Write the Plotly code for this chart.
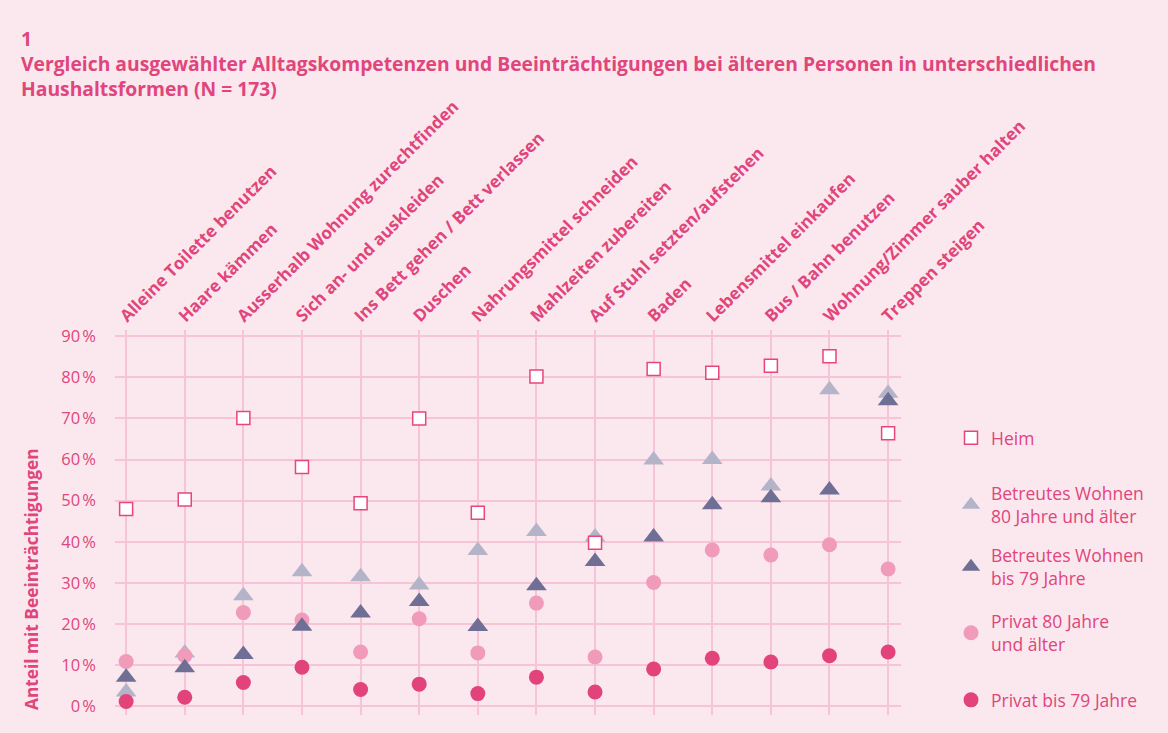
import plotly.graph_objects as go

categories = [
    "Alleine Toilette benutzen",
    "Haare kämmen",
    "Ausserhalb Wohnung zurechtfinden",
    "Sich an- und auskleiden",
    "Ins Bett gehen / Bett verlassen",
    "Duschen",
    "Nahrungsmittel schneiden",
    "Mahlzeiten zubereiten",
    "Auf Stuhl setzten/aufstehen",
    "Baden",
    "Lebensmittel einkaufen",
    "Bus / Bahn benutzen",
    "Wohnung/Zimmer sauber halten",
    "Treppen steigen",
]

heim = [48.0, 50.3, 70.1, 58.2, 49.4, 70.0, 47.1, 80.2, 39.8, 82.0, 81.1, 82.8, 85.1, 66.4]
betreut_80 = [3.5, 13.0, 26.9, 32.7, 31.5, 29.5, 37.9, 42.5, 41.2, 59.9, 60.0, 53.6, 77.0, 76.1]
betreut_79 = [7.1, 9.4, 12.6, 19.5, 22.7, 25.5, 19.4, 29.3, 35.2, 41.2, 49.0, 50.7, 52.6, 74.3]
privat_80 = [10.9, 12.3, 22.8, 21.0, 13.2, 21.3, 13.0, 25.1, 12.0, 30.1, 38.0, 36.8, 39.3, 33.4]
privat_79 = [1.2, 2.2, 5.8, 9.5, 4.1, 5.4, 3.1, 7.1, 3.5, 9.1, 11.7, 10.8, 12.3, 13.2]

y_tickvals = [0, 10, 20, 30, 40, 50, 60, 70, 80, 90]
y_ticktext = [f"{v}\u202f%" for v in y_tickvals]

PINK = "#e0457b"
BG = "#fbe8ef"
GRID = "#f7c4d7"
FONT = "Open Sans"

x_idx = list(range(len(categories)))

fig = go.Figure()

# draw order (bottom -> top); each series gets its own legend box
fig.add_trace(go.Scatter(
    x=x_idx, y=betreut_80, mode="markers", name="Betreutes Wohnen<br>80 Jahre und älter",
    marker=dict(symbol="triangle-up", size=18, color="#b4b4c9"), legend="legend2"))
fig.add_trace(go.Scatter(
    x=x_idx, y=privat_80, mode="markers", name="Privat 80 Jahre<br>und älter",
    marker=dict(symbol="circle", size=15, color="#f09bb9"), legend="legend4"))
fig.add_trace(go.Scatter(
    x=x_idx, y=betreut_79, mode="markers", name="Betreutes Wohnen<br>bis 79 Jahre",
    marker=dict(symbol="triangle-up", size=18, color="#6f6f95"), legend="legend3"))
fig.add_trace(go.Scatter(
    x=x_idx, y=heim, mode="markers", name="Heim",
    marker=dict(symbol="square", size=13, color="white", line=dict(color="#e8457b", width=1.5)),
    legend="legend"))
fig.add_trace(go.Scatter(
    x=x_idx, y=privat_79, mode="markers", name="Privat bis 79 Jahre",
    marker=dict(symbol="circle", size=15, color="#e2437a"), legend="legend5"))

legend_font = dict(size=17.5, color=PINK, family=FONT)


def leg(ypos):
    return dict(x=1.0636, xanchor="left", y=ypos, yanchor="middle",
                bgcolor="rgba(0,0,0,0)", font=legend_font)


fig.update_layout(
    width=1168, height=733,
    paper_bgcolor=BG, plot_bgcolor=BG,
    margin=dict(l=115, r=267, t=330, b=18),
    font=dict(family=FONT, color=PINK, size=15),
    showlegend=True,
    legend=leg(0.7195),
    legend2=leg(0.5455),
    legend3=leg(0.3844),
    legend4=leg(0.2130),
    legend5=leg(0.0390),
    xaxis=dict(
        range=[-0.19, 13.22], side="top",
        tickvals=x_idx, ticktext=categories, tickangle=-45,
        tickfont=dict(size=17, color=PINK, family=FONT, weight="bold"),
        showgrid=True, gridcolor=GRID, gridwidth=1.5,
        zeroline=False, showline=False, ticks="",
        ticklabelshift=-5,
    ),
    yaxis=dict(
        range=[-2.1, 91.5],
        tickvals=y_tickvals, ticktext=y_ticktext,
        tickfont=dict(size=16.5, color=PINK, family=FONT),
        showgrid=True, gridcolor=GRID, gridwidth=1.5,
        zeroline=False, showline=False, ticks="",
        ticklabelstandoff=18,
    ),
    annotations=[
        dict(
            text="<b>1</b><br><b>Vergleich ausgewählter Alltagskompetenzen und Beeinträchtigungen bei älteren Personen in unterschiedlichen</b><br><b>Haushaltsformen (N = 173)</b>",
            xref="paper", yref="paper", x=-0.1221, y=1.798, xanchor="left", yanchor="top",
            align="left", showarrow=False, font=dict(size=19.3, color=PINK, family=FONT),
        ),
        dict(
            text="<b>Anteil mit Beeinträchtigungen</b>",
            xref="paper", yref="paper", x=-0.1056, y=0.008, xanchor="center", yanchor="bottom",
            textangle=-90, showarrow=False, font=dict(size=17.3, color=PINK, family=FONT),
        ),
    ],
)

fig.write_html(
    "out.html",
    config={"displayModeBar": False},
    post_script="document.body.style.margin='0';document.body.style.overflow='hidden';",
)
